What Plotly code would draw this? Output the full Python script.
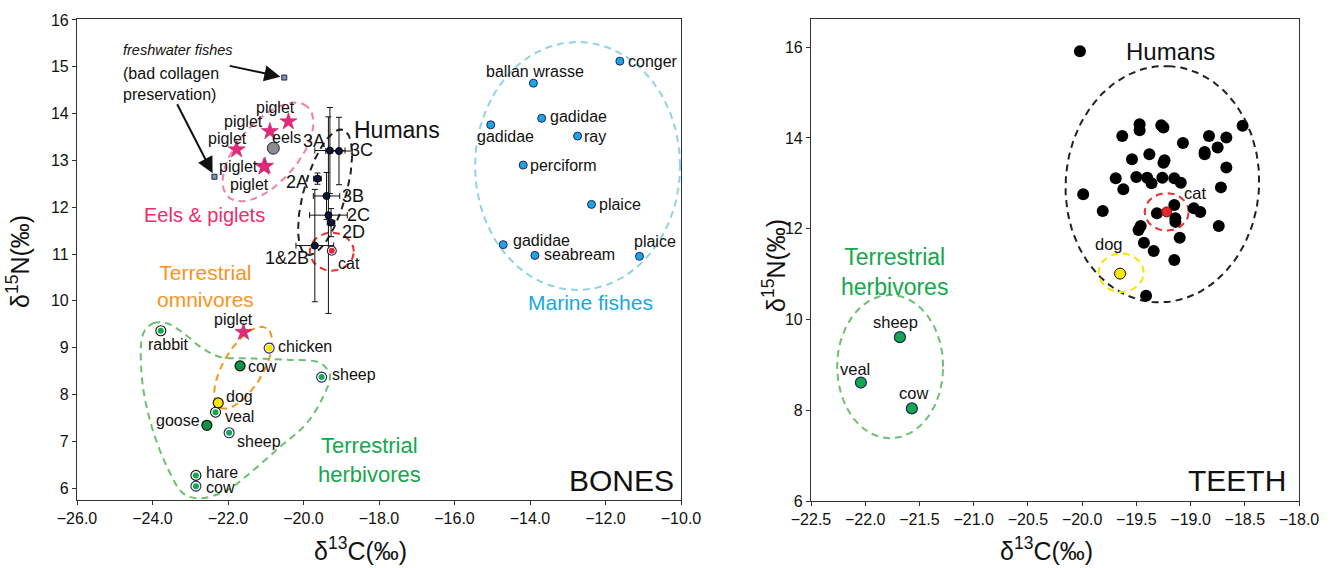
import numpy as np
import plotly.graph_objects as go

W, H = 1337, 568
FONT = "Liberation Sans, Arial, Helvetica, sans-serif"

# ---------------- BONES (left panel) data ----------------
fish_names = ["conger", "ballan wrasse", "gadidae", "gadidae", "ray", "perciform",
              "plaice", "gadidae", "seabream", "plaice"]
fish_c = [-11.62, -13.91, -13.69, -15.04, -12.74, -14.18, -12.37, -14.71, -13.87, -11.10]
fish_n = [15.12, 14.65, 13.90, 13.76, 13.52, 12.90, 12.06, 11.20, 10.97, 10.95]

fresh_c = [-20.51, -22.36]
fresh_n = [14.77, 12.65]

piglet_top_c = [-20.40, -20.89, -21.77, -21.02, -21.05]
piglet_top_n = [13.83, 13.62, 13.23, 12.88, 12.86]
eels_c = [-20.80]
eels_n = [13.26]

human_ids = ["3A", "3C", "2A", "3B", "2C", "2D", "1&2B"]
human_c = [-19.30, -19.06, -19.63, -19.39, -19.34, -19.27, -19.70]
human_n = [13.21, 13.20, 12.61, 12.24, 11.83, 11.67, 11.18]
human_c_err = [0.40, 0.35, 0.10, 0.35, 0.50, 0.10, 0.50]
human_n_err = [0.92, 0.72, 0.12, 0.50, 2.10, 0.30, 1.20]

cat_bone_c = [-19.25]
cat_bone_n = [11.07]

herbA_names = ["rabbit", "veal", "hare"]
herbA_c = [-23.78, -22.33, -22.85]
herbA_n = [9.36, 7.62, 6.27]
herbB_names = ["sheep", "sheep", "cow"]
herbB_c = [-19.52, -21.97, -22.85]
herbB_n = [8.37, 7.18, 6.04]
herbC_names = ["cow", "goose"]
herbC_c = [-21.68, -22.56]
herbC_n = [8.61, 7.34]
dog_bone_c = [-22.26]
dog_bone_n = [7.82]
chicken_c = [-20.91]
chicken_n = [8.99]
piglet_low_c = [-21.59]
piglet_low_n = [9.33]

# ---------------- TEETH (right panel) data ----------------
human_t_c = [-20.02, -19.47, -19.47, -19.27, -19.25, -18.52, -19.63, -18.83, -18.67, -19.07,
             -18.75, -18.87, -18.87, -19.54, -19.38, -19.24, -19.25, -18.67, -19.69, -19.50,
             -19.40, -19.36, -19.26, -19.15, -19.09, -19.62, -18.72, -19.99, -19.81, -19.15,
             -19.31, -19.14, -19.14, -18.97, -18.91, -18.74, -19.46, -19.48, -19.10, -19.43,
             -19.34, -19.15, -19.41]
human_t_n = [15.91, 14.30, 14.17, 14.28, 14.23, 14.27, 14.04, 14.04, 14.01, 13.89,
             13.79, 13.69, 13.64, 13.53, 13.64, 13.51, 13.45, 13.35, 13.11, 13.14,
             13.12, 13.00, 13.12, 13.11, 13.01, 12.87, 12.91, 12.76, 12.39, 12.52,
             12.34, 12.23, 12.15, 12.45, 12.37, 12.06, 12.06, 11.97, 11.80, 11.69,
             11.51, 11.31, 10.52]
cat_t_c = [-19.22]
cat_t_n = [12.37]
dog_t_c = [-19.65]
dog_t_n = [11.01]
herb_t_names = ["sheep", "veal", "cow"]
herb_t_c = [-21.68, -22.04, -21.57]
herb_t_n = [9.61, 8.61, 8.04]

# ---------------- layout geometry (pixels) ----------------
L_X0, L_X1, L_Y0, L_Y1 = 77, 681, 19, 500
R_X0, R_X1, R_Y0, R_Y1 = 811, 1299, 19, 501
L_XR, L_YR = [-26, -10], [5.744, 16.021]
R_XR, R_YR = [-22.5, -18.0], [6, 16.62]
L_SX = (L_X1 - L_X0) / (L_XR[1] - L_XR[0])
L_SY = (L_Y1 - L_Y0) / (L_YR[1] - L_YR[0])
R_SX = (R_X1 - R_X0) / (R_XR[1] - R_XR[0])
R_SY = (R_Y1 - R_Y0) / (R_YR[1] - R_YR[0])


def P(px, py):
    return px / W, 1 - py / H


def ellipse(cx, cy, a_px, b_px, ang, sx, sy, n=160):
    t = np.linspace(0, 2 * np.pi, n)
    r = np.deg2rad(ang)
    dx = a_px * np.cos(t) * np.cos(r) - b_px * np.sin(t) * np.sin(r)
    dy = a_px * np.cos(t) * np.sin(r) + b_px * np.sin(t) * np.cos(r)
    return cx + dx / sx, cy + dy / sy


fig = go.Figure()
NAVY = "#1c2566"


def mk(x, y, xa, ya, color, size, lc="#111", lw=1, symbol="circle", **kw):
    fig.add_trace(go.Scatter(x=x, y=y, xaxis=xa, yaxis=ya, mode="markers",
                             marker=dict(color=color, size=size, symbol=symbol,
                                         line=dict(color=lc, width=lw)),
                             showlegend=False, hoverinfo="skip", **kw))


def ringed(x, y, xa, ya, color, ring, outer=10, inner=6):
    mk(x, y, xa, ya, "white", outer, lc=ring, lw=1.1)
    mk(x, y, xa, ya, color, inner, lc=color, lw=0)


def outline(xs, ys, xa, ya, color, width=2, dash="7px,5px", shape="linear"):
    fig.add_trace(go.Scatter(x=xs, y=ys, xaxis=xa, yaxis=ya, mode="lines",
                             line=dict(color=color, width=width, dash=dash, shape=shape),
                             showlegend=False, hoverinfo="skip"))


# ----- left outlines -----
ex, ey = ellipse(-12.74, 12.88, 102.5, 124, 0, L_SX, L_SY)
outline(ex, ey, "x", "y", "#8fd2ea")
ex, ey = ellipse(-20.94, 13.18, 60, 30, 49, L_SX, L_SY)
outline(ex, ey, "x", "y", "#f27fab")
ex, ey = ellipse(-19.43, 12.32, 65, 21, 74, L_SX, L_SY)
outline(ex, ey, "x", "y", "#222222")
ex, ey = ellipse(-19.25, 11.05, 22, 19, 0, L_SX, L_SY)
outline(ex, ey, "x", "y", "#e8302a")
ex, ey = ellipse(-21.60, 8.57, 46, 20, 59.5, L_SX, L_SY)
outline(ex, ey, "x", "y", "#f7941d")
herb_outline_c = [-24.24, -23.98, -23.62, -23.18, -22.74, -22.21, -21.42, -20.44, -19.56, -19.30,
                  -19.48, -19.92, -20.62, -21.42, -22.03, -22.74, -23.18, -23.62, -24.07, -24.29, -24.24]
herb_outline_n = [9.31, 9.52, 9.52, 9.31, 9.02, 8.80, 8.77, 8.74, 8.67, 8.41,
                  7.95, 7.38, 6.88, 6.32, 5.95, 5.78, 5.88, 6.46, 7.45, 8.45, 9.31]
outline(herb_outline_c, herb_outline_n, "x", "y", "#6cc070", shape="spline")

# ----- left markers -----
mk(fish_c, fish_n, "x", "y", "#1fa3e3", 8, lc=NAVY)
mk(fresh_c, fresh_n, "x", "y", "#8a93a8", 5, lc=NAVY, symbol="square")
mk(eels_c, eels_n, "x", "y", "#8c8c8c", 12, lc=NAVY)
mk(piglet_top_c, piglet_top_n, "x", "y", "#e2297a", 13, lc="#b01a5c", lw=0.5, symbol="star")
mk(piglet_low_c, piglet_low_n, "x", "y", "#e2297a", 13, lc="#b01a5c", lw=0.5, symbol="star")
fig.add_trace(go.Scatter(x=human_c, y=human_n, xaxis="x", yaxis="y", mode="markers",
                         marker=dict(color="#0d1540", size=7, line=dict(color="#000", width=1)),
                         error_x=dict(type="data", array=human_c_err, color="#111", thickness=1, width=3),
                         error_y=dict(type="data", array=human_n_err, color="#111", thickness=1, width=3),
                         showlegend=False, hoverinfo="skip"))
ringed(cat_bone_c, cat_bone_n, "x", "y", "#e8262a", NAVY, outer=9, inner=6)
ringed(herbA_c, herbA_n, "x", "y", "#12a84b", "#111")
ringed(herbB_c, herbB_n, "x", "y", "#12a84b", NAVY)
mk(herbC_c, herbC_n, "x", "y", "#0c9444", 10, lc="#111", lw=1.2)
mk(dog_bone_c, dog_bone_n, "x", "y", "#ffe600", 10, lc="#111", lw=1.2)
ringed(chicken_c, chicken_n, "x", "y", "#ffe600", NAVY, outer=10, inner=7)

# ----- right outlines -----
ex, ey = ellipse(-19.26, 12.98, 118.3, 96.7, 86, R_SX, R_SY)
outline(ex, ey, "x2", "y2", "#222222")
ex, ey = ellipse(-19.22, 12.37, 22, 18.7, 0, R_SX, R_SY)
outline(ex, ey, "x2", "y2", "#e8302a")
ex, ey = ellipse(-19.64, 11.03, 22.5, 19.3, 0, R_SX, R_SY)
outline(ex, ey, "x2", "y2", "#f5e400")
ex, ey = ellipse(-21.77, 8.96, 53, 71.7, 0, R_SX, R_SY)
outline(ex, ey, "x2", "y2", "#6cc070")

# ----- right markers -----
mk(human_t_c, human_t_n, "x2", "y2", "#000000", 12, lc="#000", lw=0)
mk(cat_t_c, cat_t_n, "x2", "y2", "#e8262a", 10, lc="#7a1010", lw=1)
mk(dog_t_c, dog_t_n, "x2", "y2", "#ffe600", 11, lc="#111", lw=1)
mk(herb_t_c, herb_t_n, "x2", "y2", "#12a84b", 11, lc=NAVY, lw=1.2)

# ---------------- annotations ----------------
ann = []


def labels(xs, ys, texts, specs, xa, ya, size=16, color="#111"):
    for x, y, t, (anc, dx, dy) in zip(xs, ys, texts, specs):
        ann.append(dict(x=x, y=y, xref=xa, yref=ya, text=t, showarrow=False,
                        xanchor=anc, yanchor="middle", xshift=dx, yshift=dy,
                        font=dict(size=size, color=color, family=FONT)))


labels(fish_c, fish_n, fish_names,
       [("left", 6, 0), ("center", 2, 12), ("left", 6, 2), ("center", 15, -12), ("left", 4, 0),
        ("left", 5, 0), ("left", 5, 0), ("left", 8, 4), ("left", 7, 1), ("center", 16, 15)], "x", "y")
labels(piglet_top_c, piglet_top_n, ["piglet"] * 5,
       [("center", -13, 14), ("right", -5, 10), ("center", -9, 11), ("right", -5, 0), ("center", -14, -18)],
       "x", "y")
labels(eels_c, eels_n, ["eels"], [("left", -3, 11)], "x", "y")
labels(human_c, human_n, human_ids,
       [("right", -3, 10), ("left", 9, 1), ("right", -7, -3), ("left", 13, 0), ("left", 17, 0),
        ("left", 9, -9), ("right", -4, -12)], "x", "y", size=18)
labels(cat_bone_c, cat_bone_n, ["cat"], [("left", 4, -13)], "x", "y")
labels(herbA_c, herbA_n, herbA_names, [("center", 8, -14), ("left", 7, -4), ("left", 8, 3)], "x", "y")
labels(herbB_c, herbB_n, herbB_names, [("left", 8, 3), ("left", 6, -9), ("left", 8, -1)], "x", "y")
labels(herbC_c, herbC_n, herbC_names, [("left", 6, -1), ("right", -5, 5)], "x", "y")
labels(dog_bone_c, dog_bone_n, ["dog"], [("left", 6, 6)], "x", "y")
labels(chicken_c, chicken_n, ["chicken"], [("left", 7, 2)], "x", "y")
labels(piglet_low_c, piglet_low_n, ["piglet"], [("center", -10, 13)], "x", "y")

labels(herb_t_c, herb_t_n, herb_t_names, [("center", -4, 15), ("center", -6, 14), ("center", 2, 15)],
       "x2", "y2", size=16.5)
labels(cat_t_c, cat_t_n, ["cat"], [("left", 15, 19)], "x2", "y2", size=16.5)
labels(dog_t_c, dog_t_n, ["dog"], [("center", -11, 30)], "x2", "y2", size=16.5)


def text(px, py, t, size, color="#111", xanchor="center", align="center", angle=0):
    x, y = P(px, py)
    ann.append(dict(x=x, y=y, xref="paper", yref="paper", text=t, showarrow=False,
                    xanchor=xanchor, yanchor="middle", align=align, textangle=angle,
                    font=dict(size=size, color=color, family=FONT)))


text(204, 215, "Eels &amp; piglets", 20, "#ee2c6c")
text(205, 286, "Terrestrial<br>omnivores", 21, "#f7941d")
text(369, 460, "Terrestrial<br>herbivores", 22, "#14a84b")
text(590, 302, "Marine fishes", 21, "#16a9e1")
text(397, 130, "Humans", 23)
text(676, 480, "BONES", 30, xanchor="right")
text(1170, 52, "Humans", 24)
text(1288, 480, "TEETH", 30, xanchor="right")
text(895, 272, "Terrestrial<br>herbivores", 23, "#14a84b")
text(121, 50, "<i>freshwater fishes</i>", 14.5, xanchor="left")
text(121, 73, "(bad collagen", 16, xanchor="left")
text(121, 94, "preservation)", 16, xanchor="left")

# axis titles
text(360, 549, "δ<sup>13</sup>C(‰)", 25)
text(1046, 549, "δ<sup>13</sup>C(‰)", 25)
text(18, 262, "δ<sup>15</sup>N(‰)", 25, angle=-90)
text(774, 266, "δ<sup>15</sup>N(‰)", 25, angle=-90)

for (c, n, axx, ayy) in [(fresh_c[0], fresh_n[0], -56, -12), (fresh_c[1], fresh_n[1], -38, -74)]:
    ann.append(dict(x=c, y=n, xref="x", yref="y", ax=axx, ay=ayy, axref="pixel", ayref="pixel",
                    showarrow=True, arrowhead=2, arrowsize=1.6, arrowwidth=2, arrowcolor="#111",
                    standoff=4, text=""))

axis_common = dict(showline=True, mirror=True, linecolor="#333", linewidth=1.2, ticks="outside",
                   ticklen=4, tickcolor="#333", showgrid=False, zeroline=False, automargin=False,
                   tickfont=dict(size=16, color="#111", family=FONT))

fig.update_layout(
    width=W, height=H, margin=dict(l=0, r=0, t=0, b=0, autoexpand=False),
    paper_bgcolor="white", plot_bgcolor="white", showlegend=False,
    font=dict(family=FONT, color="#111"),
    xaxis=dict(domain=[L_X0 / W, L_X1 / W], range=L_XR, dtick=2, tick0=-26, tickformat=".1f",
               anchor="y", **axis_common),
    yaxis=dict(domain=[1 - L_Y1 / H, 1 - L_Y0 / H], range=L_YR, dtick=1, tick0=6,
               anchor="x", **axis_common),
    xaxis2=dict(domain=[R_X0 / W, R_X1 / W], range=R_XR, dtick=0.5, tick0=-22.5, tickformat=".1f",
                anchor="y2", **axis_common),
    yaxis2=dict(domain=[1 - R_Y1 / H, 1 - R_Y0 / H], range=R_YR, dtick=2, tick0=6,
                anchor="x2", **axis_common),
    annotations=ann,
)

fig.write_html("out.html", config={"displayModeBar": False},
               post_script="document.body.style.margin='0px';document.body.style.overflow='hidden';")
